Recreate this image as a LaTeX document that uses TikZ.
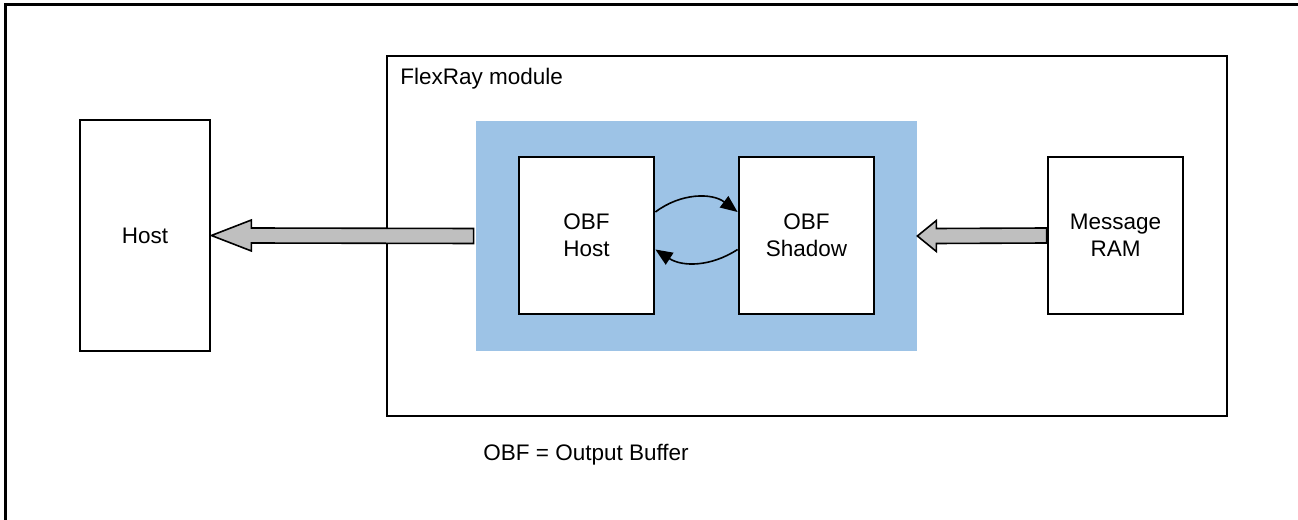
\documentclass[tikz,border=0pt]{standalone}
\usepackage{fontspec}
\setmainfont{Liberation Sans}
\usetikzlibrary{arrows.meta}
\begin{document}
\begin{tikzpicture}[
    x=0.5pt, y=0.5pt,
    >={Triangle[length=8.5pt,width=7pt]},
    font=\fontsize{11.25}{13.5}\selectfont,
    box/.style={draw, line width=1.4pt, fill=white, align=center, minimum width=67.5pt, minimum height=78.5pt, inner sep=0pt},
    fatarrow/.style={draw, line width=0.8pt, fill=black!25, line join=miter},
    swap/.style={->, line width=0.8pt}
  ]
    \useasboundingbox (0,0) rectangle (1298,520);
    \draw[line width=1.5pt] (5,0) -- (5,515) -- (1298,515);

    \node[draw, line width=1.4pt, minimum width=420pt, minimum height=180pt, inner sep=0pt] (module) at (807,284) {};
    \node[anchor=base west, inner sep=0pt] (modlabel) at (400,435) {FlexRay module};
    \node[fill={rgb,255:red,157;green,195;blue,230}, minimum width=220.5pt, minimum height=115pt, inner sep=0pt] (obf) at (696.5,284) {};

    \node[box, minimum height=115.5pt, minimum width=65pt] (host) at (145,284.5) {Host};
    \node[box] (obfhost) at (586.5,284.5) {OBF\\Host};
    \node[box] (obfshadow) at (806.5,284.5) {OBF\\Shadow};
    \node[box] (msgram) at (1115.5,284.5) {Message\\RAM};

    \node[anchor=base west, inner sep=0pt] (legend) at (483,59) {OBF = Output Buffer};

    % fat arrows
    \draw[fatarrow] ([xshift=-1pt,yshift=3.75pt]obf.west) -- ([xshift=20pt,yshift=3.75pt]host.east)
      -- ([xshift=20pt,yshift=7.75pt]host.east) -- (host.east)
      -- ([xshift=20pt,yshift=-7.75pt]host.east) -- ([xshift=20pt,yshift=-3.75pt]host.east)
      -- ([xshift=-1pt,yshift=-3.75pt]obf.west) -- cycle;
    \draw[fatarrow] ([yshift=3.75pt]msgram.west) -- ([xshift=9.5pt,yshift=3.75pt]obf.east)
      -- ([xshift=9.5pt,yshift=7.75pt]obf.east) -- (obf.east)
      -- ([xshift=9.5pt,yshift=-7.75pt]obf.east) -- ([xshift=9.5pt,yshift=-3.75pt]obf.east)
      -- ([yshift=-3.75pt]msgram.west) -- cycle;

    % swap between host and shadow buffer
    \draw[swap] ([yshift=11.75pt]obfhost.east) to[bend left=37] ([yshift=11.75pt]obfshadow.west);
    \draw[swap] ([yshift=-7pt]obfshadow.west) to[bend left=33] ([yshift=-7pt]obfhost.east);
  \end{tikzpicture}
\end{document}
